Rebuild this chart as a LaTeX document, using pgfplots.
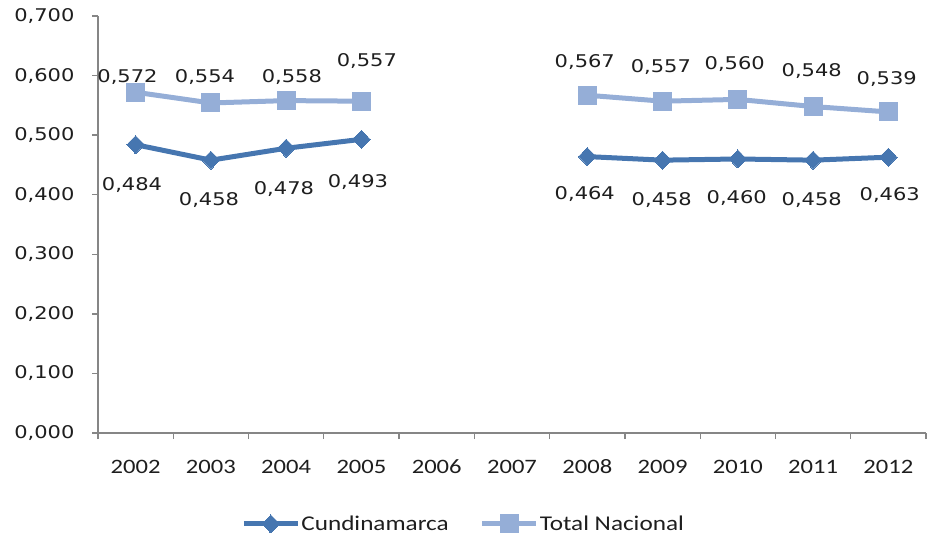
\documentclass[border=0pt]{standalone}
\usepackage{fontspec}
\setmainfont{Carlito}
\newfontfamily\dv{DejaVu Sans}
\usepackage{graphicx}
\usepackage{pgfplots}
\pgfplotsset{compat=1.18}
\newcommand\wide[1]{\scalebox{1.2}[1]{#1}}
\definecolor{cund}{RGB}{70,118,176}
\definecolor{tot}{RGB}{149,174,215}
\definecolor{axgray}{RGB}{134,134,134}
\definecolor{txt}{RGB}{30,30,30}
\pgfkeys{/pgf/number format/.cd,fixed,fixed zerofill,precision=3,use comma,assume math mode=true}
\begin{document}
\begin{tikzpicture}[x=1pt,y=1pt]
\useasboundingbox (0,0) rectangle (928,541);
\begin{axis}[
  at={(98pt,108pt)}, anchor=south west,
  scale only axis, width=828pt, height=417pt,
  xmin=-0.5, xmax=10.5, ymin=0, ymax=0.7,
  axis lines*=left,
  axis line style={axgray, line width=1.3pt},
  every tick/.style={axgray, line width=1.3pt},
  tick align=outside,
  major tick length=6pt,
  xtick={-0.5,0.5,...,10.5},
  xticklabels={,,,,,,,,,,,},
  extra x ticks={0,1,...,10},
  extra x tick labels={\wide{2002},\wide{2003},\wide{2004},\wide{2005},\wide{2006},\wide{2007},\wide{2008},\wide{2009},\wide{2010},\wide{2011},\wide{2012}},
  extra x tick style={major tick length=0pt, xticklabel style={anchor=center, yshift=-34pt, font=\fontsize{20.5}{24}\selectfont, text=txt}},
  ytick={0,0.1,...,0.7},
  yticklabel={\wide{\pgfmathprintnumber{\tick}}},
  yticklabel style={anchor=east, xshift=-14pt, font=\dv\fontsize{17.5}{20}\selectfont, text=txt},
  unbounded coords=jump,
  clip=false,
  legend columns=2,
  legend style={draw=none, fill=none, at={(0.441,-0.218)}, anchor=center,
    font=\fontsize{21}{24}\selectfont, text=txt,
    /tikz/every even column/.append style={column sep=30pt},
    nodes={inner sep=1pt}},
  legend image code/.code={\draw[mark repeat=2,mark phase=2] plot coordinates {(0pt,0pt) (27pt,0pt) (54pt,0pt)};},
]
\addplot[cund, line width=5pt, mark=diamond*, mark size=9pt, mark options={solid, line width=0pt, fill=cund, xscale=1.3}]
coordinates {(0,0.484) (1,0.458) (2,0.478) (3,0.493) (4,nan) (5,nan) (6,0.464) (7,0.458) (8,0.460) (9,0.458) (10,0.463)};
\addlegendentry{\wide{Cundinamarca}}
\addplot[tot, line width=5pt, mark=square*, mark size=9pt, mark options={solid, line width=0pt, fill=tot}]
coordinates {(0,0.572) (1,0.554) (2,0.558) (3,0.557) (4,nan) (5,nan) (6,0.567) (7,0.557) (8,0.560) (9,0.548) (10,0.539)};
\addlegendentry{\wide{Total Nacional}}
% data labels
\addplot[forget plot, draw=none, mark=none, point meta=explicit,
  nodes near coords={\wide{\pgfmathprintnumber{\pgfplotspointmeta}}},
  every node near coord/.append style={anchor=center, inner sep=0pt, font=\dv\fontsize{17.5}{20}\selectfont, text=txt}]
coordinates {
 (-0.108,0.5976) [0.572] (0.921,0.5976) [0.554] (2.076,0.5976) [0.558] (3.072,0.6245) [0.557]
 (5.967,0.6228) [0.567] (6.977,0.6144) [0.557] (7.959,0.6194) [0.560] (8.982,0.6077) [0.548] (9.978,0.5943) [0.539]
 (-0.048,0.4163) [0.484] (0.974,0.3911) [0.458] (1.970,0.4088) [0.478] (2.953,0.4205) [0.493]
 (5.967,0.4012) [0.464] (6.990,0.3911) [0.458] (7.986,0.3945) [0.460] (8.982,0.3911) [0.458] (10.018,0.3987) [0.463]
};
\end{axis}
\end{tikzpicture}
\end{document}
